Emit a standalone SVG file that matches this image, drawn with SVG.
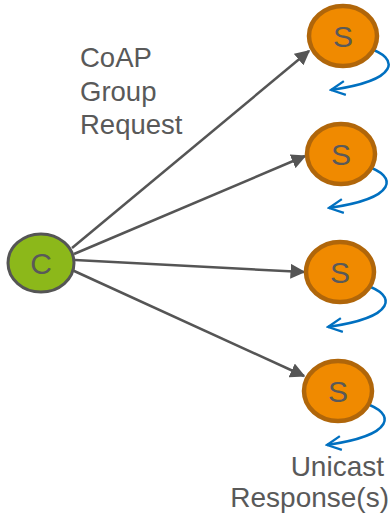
<svg xmlns="http://www.w3.org/2000/svg" width="392" height="518" viewBox="0 0 392 518">
<style>
.s{fill:#F08A00;stroke:#B0660A;stroke-width:4.5}
.c{fill:#8CB81A;stroke:#555;stroke-width:3}
.lbl{font-family:"Liberation Sans",Arial,sans-serif;fill:#595959}
.ar{stroke:#555;stroke-width:2.5;fill:none;marker-end:url(#ah)}
.rp{stroke:#0070C0;stroke-width:2.5;fill:none;marker-end:url(#bh)}
</style>
<defs>
<marker id="ah" viewBox="0 0 10 10" refX="9" refY="5" markerWidth="6" markerHeight="6" orient="auto" markerUnits="strokeWidth">
<path d="M0,0 L10,5 L0,10 Z" fill="#555"/>
</marker>
<marker id="bh" viewBox="0 0 10 10" refX="9" refY="5" markerWidth="7" markerHeight="7" orient="auto" markerUnits="strokeWidth">
<path d="M1,1 L9,5 L1,9" fill="none" stroke="#0070C0" stroke-width="1.3"/>
</marker>
</defs>
<g id="connectors">
<line class="ar" x1="72" y1="248" x2="309" y2="51"/>
<line class="ar" x1="74" y1="254" x2="305" y2="156"/>
<line class="ar" x1="75" y1="260" x2="304" y2="272"/>
<line class="ar" x1="72" y1="270" x2="304" y2="376"/>
<path class="rp" d="M368,48 C400,58 400,80 331,90"/>
<path class="rp" d="M366,166 C398,176 398,198 329,208"/>
<path class="rp" d="M365,285 C397,295 397,317 328,327"/>
<path class="rp" d="M364,403 C396,413 396,435 327,445"/>
</g>
<g id="C">
<ellipse class="c" cx="41" cy="263" rx="33" ry="29"/>
<text class="lbl" x="41" y="274" font-size="30" text-anchor="middle">C</text>
</g>
<g id="S1">
<ellipse class="s" cx="343" cy="36" rx="34" ry="30"/>
<text class="lbl" x="343" y="47" font-size="30" text-anchor="middle">S</text>
</g>
<g id="S2">
<ellipse class="s" cx="341" cy="154" rx="34" ry="30"/>
<text class="lbl" x="341" y="165" font-size="30" text-anchor="middle">S</text>
</g>
<g id="S3">
<ellipse class="s" cx="340" cy="272" rx="34" ry="30"/>
<text class="lbl" x="340" y="283" font-size="30" text-anchor="middle">S</text>
</g>
<g id="S4">
<ellipse class="s" cx="338" cy="391" rx="34" ry="30"/>
<text class="lbl" x="338" y="402" font-size="30" text-anchor="middle">S</text>
</g>
<g id="labels">
<text class="lbl" font-size="27.5" x="80" y="67">CoAP</text>
<text class="lbl" font-size="27.5" x="80" y="101">Group</text>
<text class="lbl" font-size="27.5" x="80" y="134">Request</text>
<text class="lbl" font-size="28" x="384" y="476" text-anchor="end">Unicast</text>
<text class="lbl" font-size="28" x="389" y="507" text-anchor="end">Response(s)</text>
</g>
</svg>
